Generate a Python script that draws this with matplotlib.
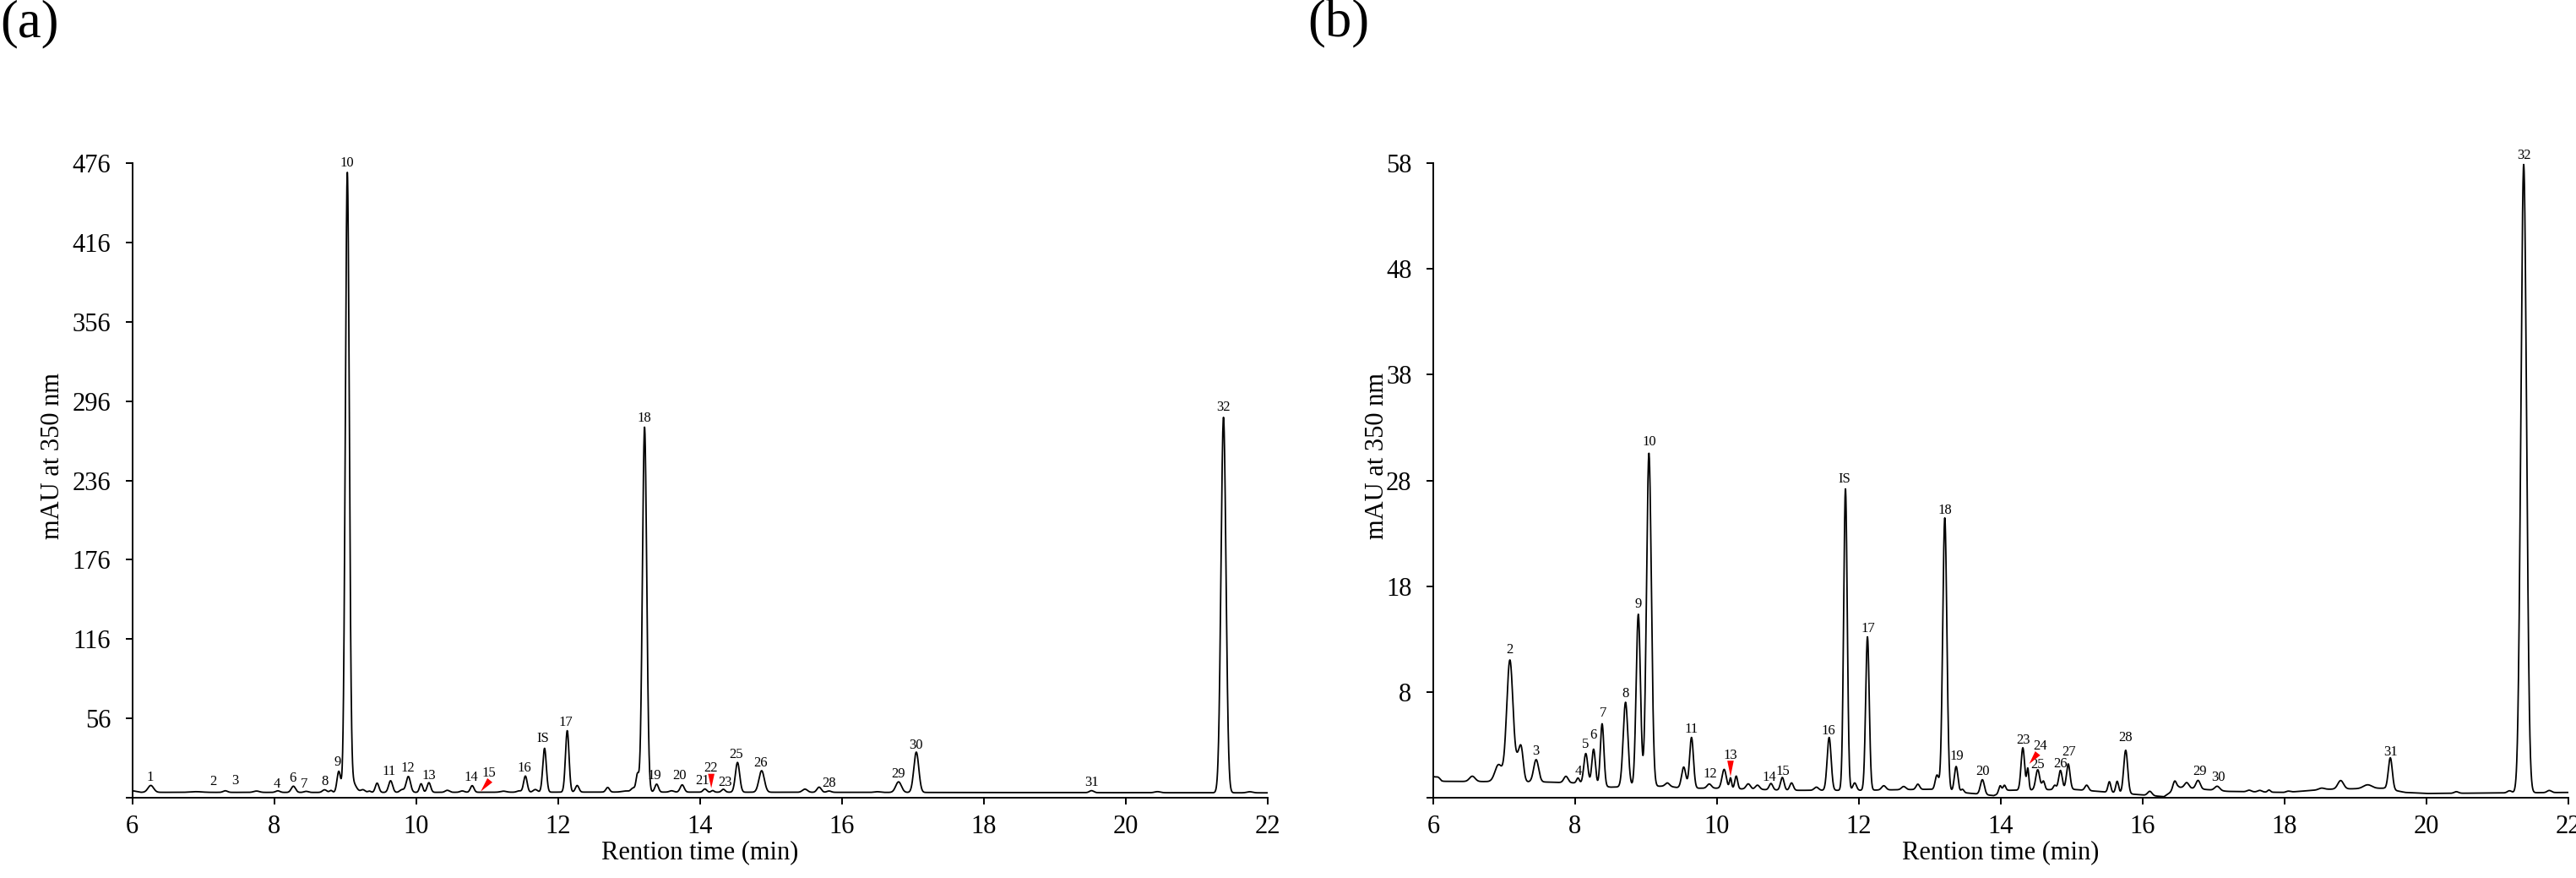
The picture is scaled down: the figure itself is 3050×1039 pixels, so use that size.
import numpy as np
import matplotlib
matplotlib.use("Agg")
import matplotlib.pyplot as plt

plt.rcParams['font.family'] = ['Liberation Serif', 'DejaVu Serif']

# ---- panel (a): peak table (rt min, height mAU, sigma min)
a_rt = [6.26, 6.90, 7.31, 7.75, 8.05, 8.27, 8.45, 8.71, 8.80, 8.91, 9.03, 9.10,
        9.25, 9.34, 9.45, 9.64, 9.80, 9.89, 10.07, 10.18, 10.44, 10.65, 10.79,
        11.23, 11.45, 11.54, 11.68, 11.81, 12.13, 12.27, 12.70, 12.95, 13.06,
        13.12, 13.22, 13.39, 13.60, 13.75, 14.07, 14.18, 14.33, 14.53, 14.87,
        15.48, 15.68, 15.82, 16.50, 16.80, 17.05, 19.52, 20.45, 21.38, 21.75]
a_height = [5.2, 0.5, 1.2, 1.0, 1.2, 4.7, 0.8, 2.0, 1.5, 16.0, 466.0, 8.0,
            2.0, 1.0, 7.0, 8.8, 2.0, 12.0, 6.5, 7.3, 1.5, 1.0, 5.0,
            0.8, 1.0, 12.2, 2.0, 33.2, 46.5, 5.0, 3.5, 0.8, 3.0,
            13.0, 276.0, 6.0, 1.0, 5.5, 2.4, 1.2, 2.2, 22.5, 16.3,
            2.4, 3.9, 1.0, 0.5, 8.0, 30.5, 1.5, 0.8, 284.0, 0.8]
a_sigma = [0.04, 0.08, 0.03, 0.04, 0.03, 0.03, 0.03, 0.03, 0.02, 0.025, 0.028, 0.05,
           0.03, 0.02, 0.025, 0.028, 0.03, 0.03, 0.022, 0.025, 0.03, 0.03, 0.025,
           0.04, 0.03, 0.025, 0.03, 0.025, 0.025, 0.025, 0.025, 0.05, 0.03,
           0.02, 0.03, 0.025, 0.03, 0.028, 0.025, 0.02, 0.025, 0.03, 0.038,
           0.035, 0.03, 0.03, 0.04, 0.04, 0.035, 0.03, 0.04, 0.035, 0.04]
a_base_t = [6.0, 6.12, 9.0, 13.0, 17.0, 22.0]
a_base_v = [1.3, 0.1, 0.0, 0.3, 0.0, -0.3]

a_labels = ['1', '2', '3', '4', '6', '7', '8', '9', '10', '11', '12', '13', '14', '15',
            '16', 'IS', '17', '18', '19', '20', '21', '22', '23', '25', '26', '28',
            '29', '30', '31', '32']
a_label_t = [6.25, 7.14, 7.45, 8.04, 8.26, 8.42, 8.71, 8.89, 9.03, 9.62, 9.88, 10.18,
             10.78, 11.02, 11.52, 11.79, 12.11, 13.22, 13.36, 13.71, 14.04, 14.15,
             14.35, 14.51, 14.86, 15.82, 16.80, 17.05, 19.52, 21.38]
a_label_v = [11.1, 7.9, 8.6, 6.2, 10.7, 6.2, 8.3, 22.6, 476.0, 15.8, 18.6, 12.8,
             11.1, 14.3, 18.6, 40.5, 53.2, 283.0, 12.8, 12.8, 8.6, 18.6,
             7.3, 28.6, 22.0, 6.8, 13.7, 35.6, 7.6, 291.0]
a_arrows = [((11.04, 9.2), (10.91, 0.7)), ((14.16, 14.1), (14.16, 3.2))]

# ---- panel (b)
b_rt = [6.07, 6.55, 6.92, 7.08, 7.19, 7.24, 7.45, 7.87, 8.04, 8.15, 8.26, 8.38,
        8.71, 8.89, 9.04, 9.30, 9.53, 9.64, 9.89, 10.10, 10.19, 10.27, 10.44,
        10.57, 10.76, 10.92, 11.05, 11.40, 11.58, 11.81, 11.94, 12.12, 12.35,
        12.63, 12.83, 13.10, 13.21, 13.37, 13.46, 13.74, 13.99, 14.05, 14.31,
        14.38, 14.52, 14.60, 14.76, 14.84, 14.95, 15.21, 15.53, 15.64, 15.76,
        16.10, 16.45, 16.62, 16.78, 17.05, 17.50, 17.65, 17.78, 18.05, 18.52,
        18.79, 19.17, 19.49, 20.42, 21.17, 21.37, 21.73]
b_height = [0.2, 0.5, 1.6, 11.5, 1.5, 3.0, 2.1, 0.6, 0.5, 2.9, 3.4, 5.9,
            8.0, 16.3, 31.5, 0.3, 2.0, 4.8, 0.4, 1.8, 1.0, 1.2, 0.5,
            0.4, 0.6, 1.2, 0.7, 0.3, 5.0, 28.5, 0.7, 14.5, 0.4,
            0.3, 0.5, 1.4, 25.8, 2.4, 0.3, 1.4, 0.7, 0.6, 4.0,
            2.0, 1.9, 0.8, 0.4, 1.8, 2.4, 0.5, 1.0, 1.1, 4.1,
            0.4, 0.8, 0.5, 0.8, 0.4, 0.15, 0.15, 0.2, 0.1, 0.15,
            0.8, 0.35, 3.0, 0.15, 0.2, 59.4, 0.2]
b_sigma = [0.03, 0.04, 0.05, 0.045, 0.03, 0.03, 0.035, 0.03, 0.02, 0.028, 0.025, 0.025,
           0.033, 0.03, 0.034, 0.03, 0.03, 0.027, 0.03, 0.03, 0.015, 0.02, 0.03,
           0.03, 0.025, 0.025, 0.025, 0.03, 0.028, 0.025, 0.025, 0.025, 0.03,
           0.03, 0.025, 0.025, 0.029, 0.025, 0.02, 0.028, 0.02, 0.02, 0.025,
           0.015, 0.028, 0.02, 0.02, 0.025, 0.025, 0.025, 0.02, 0.02, 0.028,
           0.03, 0.025, 0.03, 0.03, 0.035, 0.03, 0.03, 0.02, 0.03, 0.04,
           0.04, 0.06, 0.028, 0.03, 0.03, 0.04, 0.03]
b_base_t = [6.0, 6.12, 7.5, 8.0, 8.5, 9.3, 9.5, 10.0, 11.0, 12.0, 13.0, 13.9,
            14.1, 15.0, 16.3, 16.5, 17.2, 18.0, 18.6, 19.4, 19.7, 20.0, 22.0]
b_base_v = [0.0, -0.45, -0.5, -0.6, -1.0, -0.9, -1.1, -1.1, -1.3, -1.3, -1.2, -1.8,
            -1.3, -1.2, -1.9, -1.0, -1.4, -1.5, -1.2, -1.1, -1.5, -1.6, -1.5]

b_labels = ['2', '3', '4', '5', '6', '7', '8', '9', '10', '11', '12', '13', '14', '15',
            '16', 'IS', '17', '18', '19', '20', '23', '24', '25', '26', '27', '28',
            '29', '30', '31', '32']
b_label_t = [7.08, 7.45, 8.04, 8.14, 8.26, 8.39, 8.71, 8.89, 9.04, 9.64, 9.90, 10.19,
             10.74, 10.93, 11.57, 11.79, 12.13, 13.21, 13.38, 13.74, 14.32, 14.55,
             14.52, 14.84, 14.96, 15.76, 16.80, 17.07, 19.49, 21.37]
b_label_v = [12.0, 2.4, 0.5, 3.0, 3.9, 6.0, 7.8, 16.3, 31.6, 4.5, 0.2, 2.0,
             -0.1, 0.5, 4.3, 28.1, 14.0, 25.2, 1.9, 0.5, 3.4, 2.9,
             1.1, 1.2, 2.3, 3.7, 0.5, -0.1, 2.3, 58.7]
b_arrows = [((10.19, 1.5), (10.19, 0.0)), ((14.52, 2.2), (14.40, 1.2))]

W, H = 3050, 1039
fig = plt.figure(figsize=(W / 100, H / 100), dpi=100)


def trace(t, rt, height, sigma, base_t, base_v):
    y = np.interp(t, base_t, base_v)
    for r, h, s in zip(rt, height, sigma):
        y = y + h * np.exp(-0.5 * ((t - r) / s) ** 2)
    return y


def draw_panel(left, ylim, yticks, rt, height, sigma, base_t, base_v,
               labels, lab_t, lab_v, arrows, ylab_x):
    ax = fig.add_axes([left / W, 95 / H, 1344 / W, 751 / H])
    t = np.arange(6.0, 22.0001, 0.002)
    ax.plot(t, trace(t, rt, height, sigma, base_t, base_v), color='black', lw=1.3)
    ax.set_xlim(6, 22)
    ax.set_ylim(*ylim)
    ax.set_xticks(np.arange(6, 23, 2))
    ax.set_yticks([ylim[0]] + yticks)
    ax.set_yticklabels([''] + [str(v) for v in yticks])
    for side in ('top', 'right'):
        ax.spines[side].set_visible(False)
    for side in ('left', 'bottom'):
        ax.spines[side].set_linewidth(1.4)
    ax.tick_params(axis='both', direction='out', length=5.8, width=1.4, labelsize=22)
    ax.tick_params(axis='x', pad=8.5)
    ax.tick_params(axis='y', pad=12.5)
    ax.set_xlabel('Rention time (min)', fontsize=22)
    ax.set_ylabel('mAU at 350 nm', fontsize=22)
    ax.xaxis.set_label_coords(0.5, -0.067)
    ax.yaxis.set_label_coords(ylab_x, 0.538)
    for s, x, y in zip(labels, lab_t, lab_v):
        ax.text(x, y, s, fontsize=12, ha='center', va='center')
    for (x0, y0), (x1, y1) in arrows:
        ax.annotate('', xy=(x1, y1), xytext=(x0, y0),
                    arrowprops=dict(arrowstyle='wedge,tail_width=0.55', color='red',
                                    lw=0, shrinkA=0, shrinkB=0, mutation_scale=10))
    return ax


draw_panel(156.7, (-4, 476), list(range(56, 477, 60)), a_rt, a_height, a_sigma,
           a_base_t, a_base_v, a_labels, a_label_t, a_label_v, a_arrows, -0.0593)
draw_panel(1697, (-2, 58), list(range(8, 59, 10)), b_rt, b_height, b_sigma,
           b_base_t, b_base_v, b_labels, b_label_t, b_label_v, b_arrows, -0.039)

fig.text(0 / W, 1 - 43.5 / H, '(a)', fontsize=45, ha='left', va='baseline')
fig.text(1548 / W, 1 - 43.5 / H, '(b)', fontsize=45, ha='left', va='baseline')

fig.savefig('out.png', dpi=100)
